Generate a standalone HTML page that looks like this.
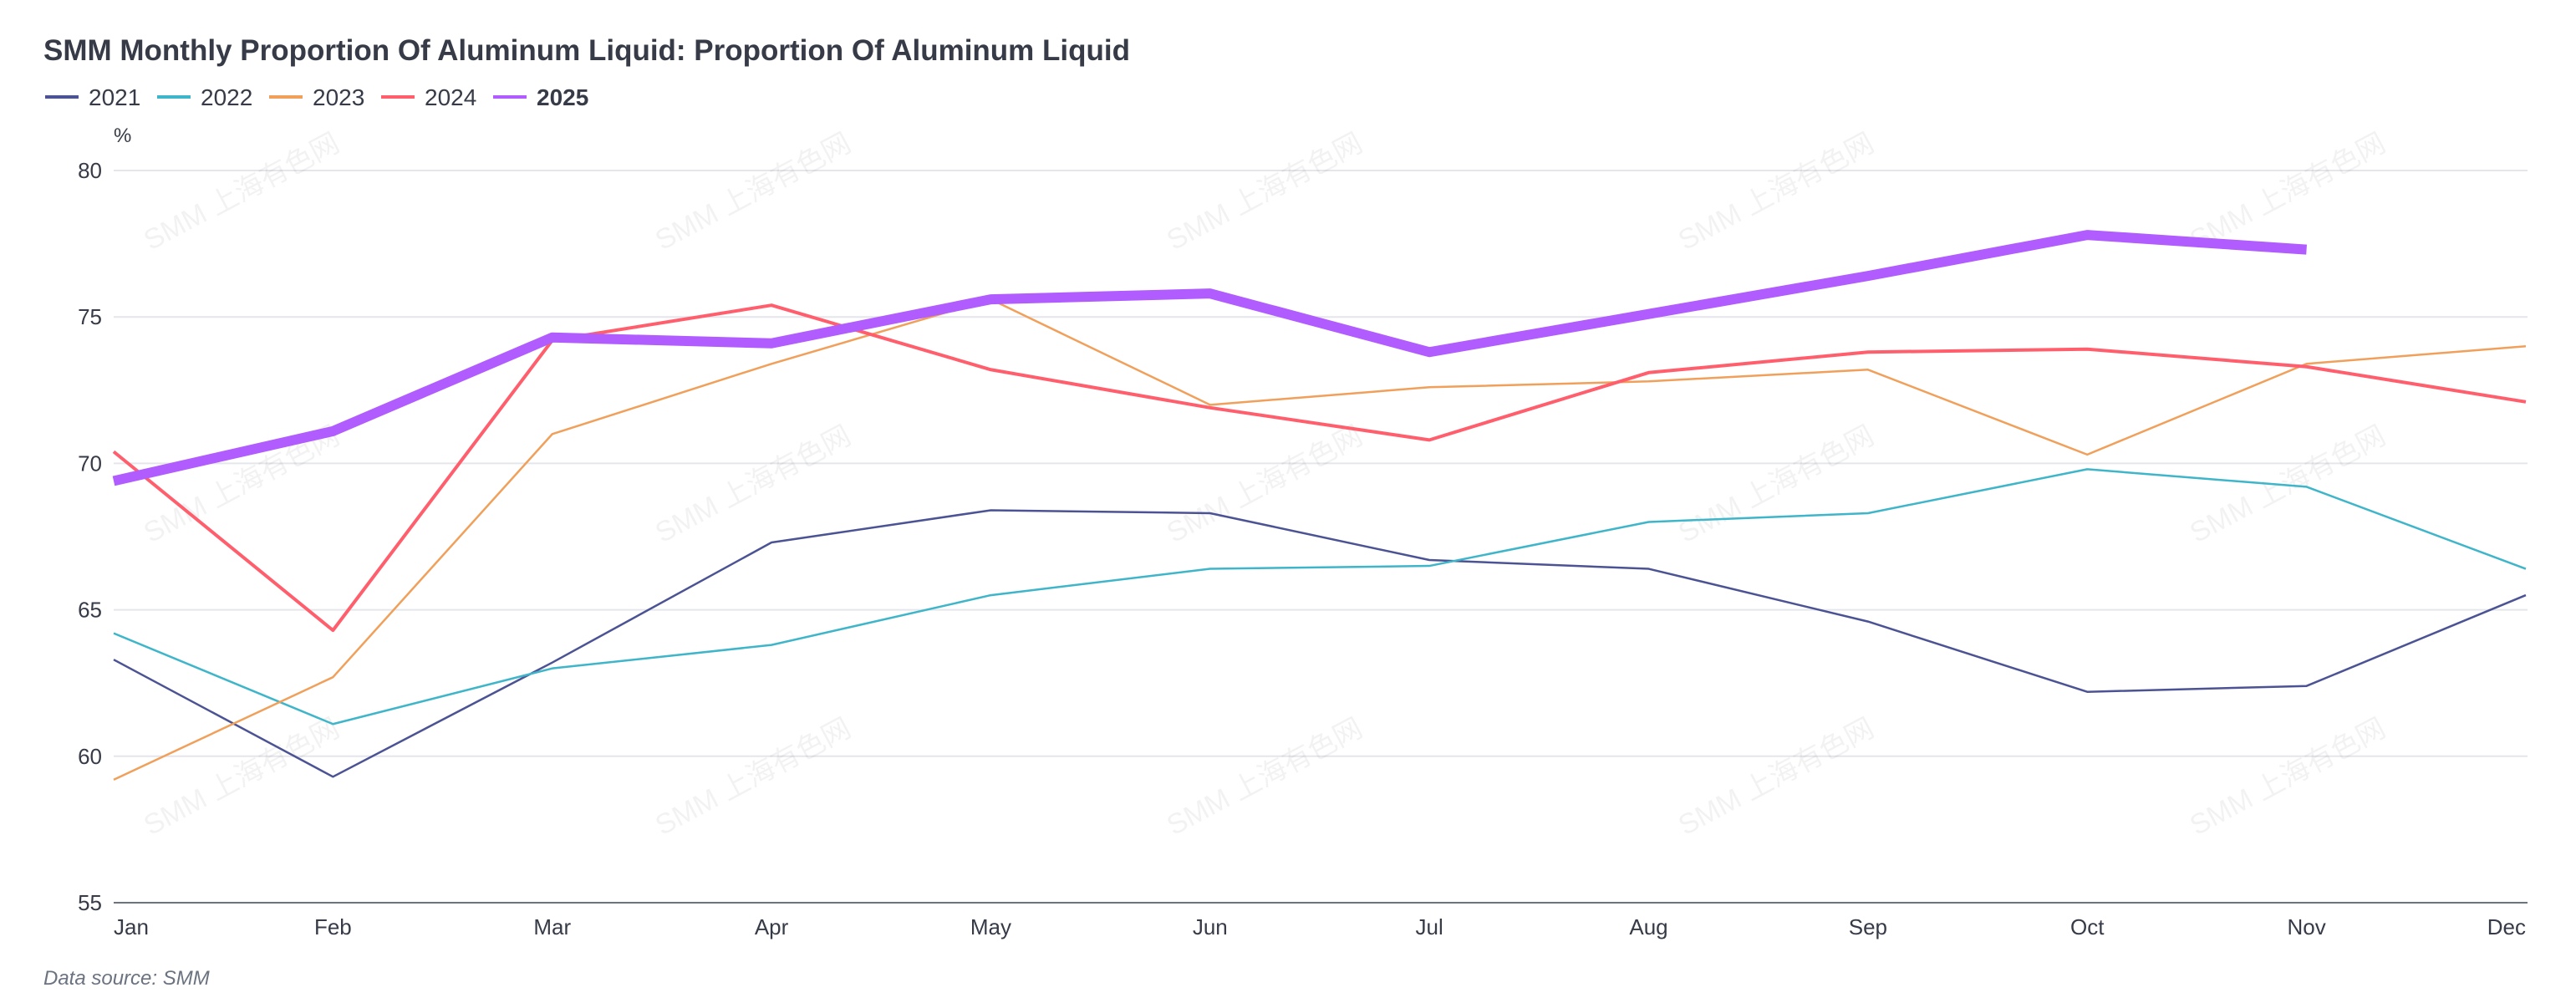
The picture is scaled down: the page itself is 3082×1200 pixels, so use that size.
<!DOCTYPE html>
<html><head><meta charset="utf-8"><style>
html,body{margin:0;padding:0;background:#fff;}
svg{display:block;font-family:"Liberation Sans","Noto Sans CJK SC",sans-serif;}
</style></head><body>
<svg id="c" width="3082" height="1200" xmlns="http://www.w3.org/2000/svg">
<text x="52" y="72" font-size="35" font-weight="bold" fill="#363b47">SMM Monthly Proportion Of Aluminum Liquid: Proportion Of Aluminum Liquid</text>
<g font-size="28" fill="#363b47">
<line x1="54" y1="116" x2="94" y2="116" stroke="#4b5394" stroke-width="4"/><text x="106" y="126">2021</text>
<line x1="188" y1="116" x2="228" y2="116" stroke="#3fb5c9" stroke-width="4"/><text x="240" y="126">2022</text>
<line x1="322" y1="116" x2="362" y2="116" stroke="#f0a05a" stroke-width="4"/><text x="374" y="126">2023</text>
<line x1="456" y1="116" x2="496" y2="116" stroke="#ff5f6d" stroke-width="4"/><text x="508" y="126">2024</text>
<line x1="590" y1="116" x2="630" y2="116" stroke="#b05cff" stroke-width="4"/><text x="642" y="126" font-weight="bold">2025</text>
</g>
<text x="136" y="170" font-size="24" fill="#363b47">%</text>
<g id="grid"></g>
<g id="wm" font-size="34" fill="#000" fill-opacity="0.05"></g>
<g id="lines"></g>
<text x="52" y="1178" font-size="24" font-style="italic" fill="#6b7280">Data source:  SMM</text>
</svg>
<script>
var ns="http://www.w3.org/2000/svg",svg=document.getElementById('c');
function X(i){return 136+262.36*i}
function Y(v){return 204+(80-v)*35.04}
function el(t,a,p,txt){var e=document.createElementNS(ns,t);for(var k in a)e.setAttribute(k,a[k]);if(txt!==undefined)e.textContent=txt;p.appendChild(e);return e}
var g=document.getElementById('grid');
[80,75,70,65,60,55].forEach(function(v){
 el('line',{x1:136,x2:3024,y1:Y(v),y2:Y(v),stroke:v==55?'#6b7280':'#e5e6eb','stroke-width':2},g);
 el('text',{x:122,y:Y(v)+9,'font-size':26,fill:'#363b47','text-anchor':'end'},g,v);
});
var m=['Jan','Feb','Mar','Apr','May','Jun','Jul','Aug','Sep','Oct','Nov','Dec'];
m.forEach(function(s,i){el('text',{x:X(i),y:1118,'font-size':26,fill:'#363b47','text-anchor':i==0?'start':(i==11?'end':'middle')},g,s)});
var wm=document.getElementById('wm');
for(var r=0;r<3;r++)for(var c=0;c<5;c++){
 var x=180+c*612,y=300+r*350;
 el('text',{x:x,y:y,transform:'rotate(-28 '+x+' '+y+')'},wm,'SMM 上海有色网');
}
var d=[
['#4b5394',2.5,[63.3,59.3,63.2,67.3,68.4,68.3,66.7,66.4,64.6,62.2,62.4,65.5]],
['#3fb5c9',2.5,[64.2,61.1,63.0,63.8,65.5,66.4,66.5,68.0,68.3,69.8,69.2,66.4]],
['#f0a05a',2.5,[59.2,62.7,71.0,73.4,75.6,72.0,72.6,72.8,73.2,70.3,73.4,74.0]],
['#ff5f6d',4,[70.4,64.3,74.2,75.4,73.2,71.9,70.8,73.1,73.8,73.9,73.3,72.1]],
['#b05cff',12,[69.4,71.1,74.3,74.1,75.6,75.8,73.8,75.1,76.4,77.8,77.3]]];
var L=document.getElementById('lines');
d.forEach(function(s){
 var p=s[2].map(function(v,i){return X(i)+','+Y(v)}).join(' ');
 el('polyline',{points:p,fill:'none',stroke:s[0],'stroke-width':s[1],'stroke-linejoin':'round'},L);
});
</script>
</body></html>
